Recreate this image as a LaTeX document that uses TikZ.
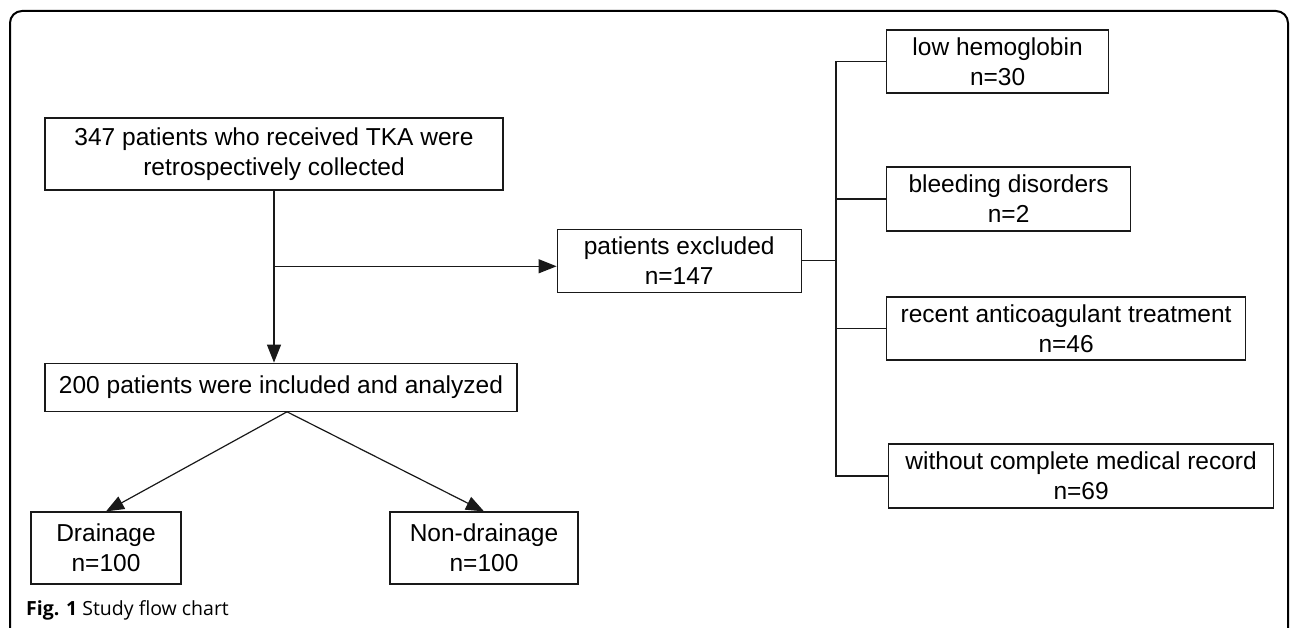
\documentclass[tikz,border=0pt]{standalone}
\usepackage{fontspec}
\setmainfont{Liberation Sans}
\newfontfamily\capfont{Open Sans}
\usetikzlibrary{positioning,calc,arrows.meta}

\begin{document}
\begin{tikzpicture}[x=1pt,y=-1pt,
    box/.style={draw=black!90, line width=1.2pt, align=center, inner sep=0pt, text=black, font=\fontsize{24.5}{30}\selectfont},
    arr/.style={draw=black!90, line width=1.2pt, -{Triangle[length=18pt,width=14pt]}},
    link/.style={draw=black!90, line width=1.2pt}]
    \useasboundingbox (0,0) rectangle (1292,628);
    \clip (0,0) rectangle (1292,628);
    % outer frame, open at the bottom
    \draw[line width=2pt, rounded corners=12pt] (10,660) -- (10,11) -- (1288,11) -- (1288,660);

    \node[box, minimum width=458pt, minimum height=72pt] (collected) at (274,154) {347 patients who received TKA were\\retrospectively collected};
    \node[box, minimum width=472pt, minimum height=48pt, below=172pt of collected, xshift=7pt] (included) {200 patients were included and analyzed};
    \node[box, minimum width=244pt, minimum height=63pt, below right=38pt and 53pt of collected] (excluded) {patients excluded\\n=147};

    \node[box, minimum width=150pt, minimum height=72pt] (drain) at (106,548) {Drainage\\n=100};
    \node[box, minimum width=188pt, minimum height=72pt] (nodrain) at (484,548) {Non-drainage\\n=100};

    % reasons for exclusion
    \node[box, anchor=west, minimum width=222pt, minimum height=63pt] (lowhb) at (886,61.5) {low hemoglobin\\n=30};
    \node[box, anchor=west, minimum width=244pt, minimum height=64pt] (bleed) at (886,199) {bleeding disorders\\n=2};
    \node[box, anchor=west, minimum width=359pt, minimum height=63pt] (anticoag) at (886,328.5) {recent anticoagulant treatment\\n=46};
    \node[box, anchor=west, minimum width=385pt, minimum height=64pt] (norecord) at (888,476) {without complete medical record\\n=69};

    \node[anchor=base west, inner sep=0pt, font=\capfont\fontsize{19.5}{24}\selectfont] (caption) at (26,615) {\textbf{Fig. 1} Study flow chart};

    \coordinate (split) at ($(collected.south)!0.44!(collected.south |- included.north)$);
    \coordinate (fork) at ($(included.south)+(6pt,0)$);
    \coordinate (spine) at (836,0);

    \draw[arr] (collected.south) -- (collected.south |- included.north);
    \draw[arr] (split) -- (split -| excluded.west);
    \draw[arr] (fork) -- (drain.north);
    \draw[arr] (fork) -- (nodrain.north);

    \draw[link] (excluded.east) -- (excluded.east -| spine);
    \draw[link] (lowhb.west) -- (lowhb.west -| spine) -- (norecord.west -| spine) -- (norecord.west);
    \foreach \n in {bleed,anticoag}
        \draw[link] (\n.west) -- (\n.west -| spine);
\end{tikzpicture}
\end{document}
